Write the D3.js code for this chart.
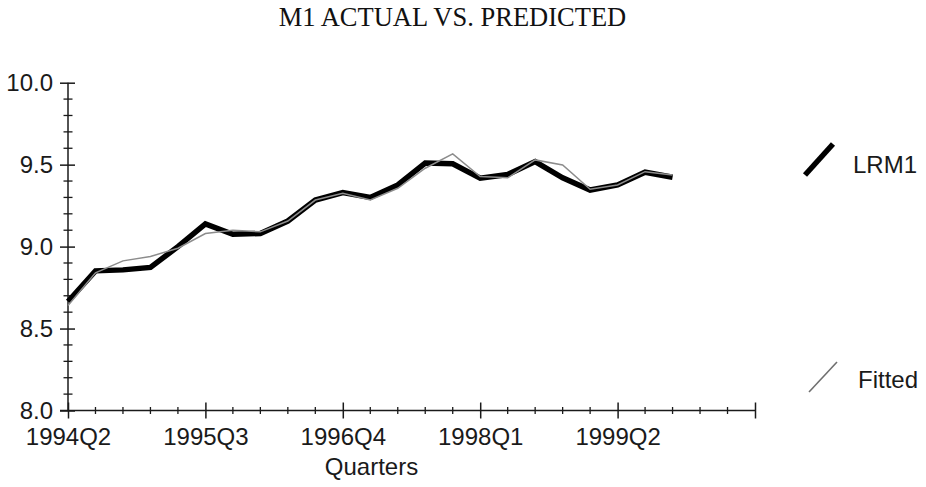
<!DOCTYPE html>
<html>
<head>
<meta charset="utf-8">
<script src="https://cdn.jsdelivr.net/npm/d3@7"></script>
<style>
  html, body { margin: 0; padding: 0; background: #fff; }
  svg { display: block; }
  .tick text { font-family: "Liberation Sans", Arial, sans-serif; }
</style>
</head>
<body>
<svg id="chart" width="926" height="487"></svg>
<script>
// Quarterly observations, 1994Q2 .. 1999Q4
const quarters = ["1994Q2","1994Q3","1994Q4","1995Q1","1995Q2","1995Q3","1995Q4","1996Q1",
  "1996Q2","1996Q3","1996Q4","1997Q1","1997Q2","1997Q3","1997Q4","1998Q1","1998Q2","1998Q3",
  "1998Q4","1999Q1","1999Q2","1999Q3","1999Q4"];
// log real M1 (actual)
const lrm1 = [8.665, 8.852, 8.858, 8.873, 9.000, 9.138, 9.075, 9.080, 9.156, 9.284, 9.330, 9.300,
  9.376, 9.510, 9.505, 9.417, 9.440, 9.519, 9.420, 9.345, 9.376, 9.454, 9.423];
// fitted values from the regression
const fitted = [8.640, 8.840, 8.913, 8.940, 8.990, 9.080, 9.100, 9.090, 9.156, 9.284, 9.325, 9.284,
  9.356, 9.478, 9.566, 9.427, 9.420, 9.529, 9.498, 9.350, 9.376, 9.457, 9.437];
// axis ticks
const yMajor = [8.0, 8.5, 9.0, 9.5, 10.0];
const yMinor = [8.1, 8.2, 8.3, 8.4, 8.6, 8.7, 8.8, 8.9, 9.1, 9.2, 9.3, 9.4, 9.6, 9.7, 9.8, 9.9];
const xMajorIdx = [0, 5, 10, 15, 20, 25];
const xMajorLabels = ["1994Q2", "1995Q3", "1996Q4", "1998Q1", "1999Q2", ""];
const xQuarterCount = 25;

const svg = d3.select("#chart");
const sans = '"Liberation Sans", Arial, sans-serif';
const ink = "#1a1a1a";
const labelSize = 24;

const x = d3.scaleLinear().domain([0, xQuarterCount]).range([68, 755]);
const y = d3.scaleLinear().domain([8, 10]).range([410.5, 82.7]);

// title
svg.append("text")
  .attr("x", 452.5).attr("y", 26)
  .attr("text-anchor", "middle")
  .attr("font-family", '"Liberation Serif", "Times New Roman", serif')
  .attr("font-size", 26.5)
  .attr("fill", "#111")
  .text("M1 ACTUAL VS. PREDICTED");

// y axis: major ticks with labels, minor ticks crossing the spine
const gy = svg.append("g").attr("transform", `translate(${x(0)},0)`);
gy.call(d3.axisLeft(y).tickValues(yMajor).tickFormat(d3.format(".1f")).tickSizeOuter(0).tickSizeInner(8).tickPadding(7));
gy.selectAll(".tick line").attr("x1", 7).attr("x2", -8).attr("stroke", ink).attr("stroke-width", 1.5);
gy.selectAll(".tick text").attr("font-size", labelSize).attr("fill", ink).attr("font-family", sans);
gy.select(".domain").attr("stroke", ink).attr("stroke-width", 1.5).attr("d", `M0,${y(10)}V${y(8)}`);
gy.selectAll("line.minor").data(yMinor).enter().append("line")
  .attr("class", "minor")
  .attr("x1", -4.5).attr("x2", 4.5)
  .attr("y1", d => y(d)).attr("y2", d => y(d))
  .attr("stroke", ink).attr("stroke-width", 1.3);

// x axis: quarter ticks, labelled every fifth quarter
const gx = svg.append("g").attr("transform", `translate(0,${y(8)})`);
gx.call(d3.axisBottom(x).tickValues(xMajorIdx).tickFormat((d, i) => xMajorLabels[i]).tickSizeOuter(0).tickSizeInner(8).tickPadding(9));
gx.selectAll(".tick line").attr("y1", -8).attr("y2", 8).attr("stroke", ink).attr("stroke-width", 1.5);
gx.selectAll(".tick text").attr("font-size", labelSize).attr("fill", ink).attr("font-family", sans);
gx.select(".domain").attr("stroke", ink).attr("stroke-width", 1.5).attr("d", `M${x(0) - 8},0H${x(xQuarterCount)}`);
const minorQ = d3.range(1, xQuarterCount).filter(i => i % 5 !== 0);
gx.selectAll("line.minor").data(minorQ).enter().append("line")
  .attr("class", "minor")
  .attr("y1", -3.5).attr("y2", 3.5)
  .attr("x1", d => x(d)).attr("x2", d => x(d))
  .attr("stroke", ink).attr("stroke-width", 1.3);

// axis title
svg.append("text")
  .attr("x", 371.5).attr("y", 475)
  .attr("text-anchor", "middle")
  .attr("font-family", sans).attr("font-size", labelSize).attr("fill", ink)
  .text("Quarters");

// series lines
const line = d3.line().x((d, i) => x(i)).y(d => y(d));
svg.append("path")
  .datum(lrm1)
  .attr("d", line)
  .attr("fill", "none")
  .attr("stroke", "#000")
  .attr("stroke-width", 5.5)
  .attr("stroke-linejoin", "miter");
svg.append("path")
  .datum(fitted)
  .attr("d", line)
  .attr("fill", "none")
  .attr("stroke", "#8c8c8c")
  .attr("stroke-width", 1.5)
  .attr("stroke-linejoin", "miter");

// legend
const legend = [
  { name: "LRM1", stroke: "#000", width: 5.5, x1: 805, y1: 175, x2: 833, y2: 144, tx: 853, ty: 172.5 },
  { name: "Fitted", stroke: "#6f6f6f", width: 1.6, x1: 809, y1: 392, x2: 837, y2: 362, tx: 858, ty: 387.5 }
];
const lg = svg.append("g");
lg.selectAll("line").data(legend).enter().append("line")
  .attr("x1", d => d.x1).attr("y1", d => d.y1)
  .attr("x2", d => d.x2).attr("y2", d => d.y2)
  .attr("stroke", d => d.stroke).attr("stroke-width", d => d.width);
lg.selectAll("text").data(legend).enter().append("text")
  .attr("x", d => d.tx).attr("y", d => d.ty)
  .attr("font-family", sans).attr("font-size", labelSize).attr("fill", ink)
  .text(d => d.name);
</script>
</body>
</html>
